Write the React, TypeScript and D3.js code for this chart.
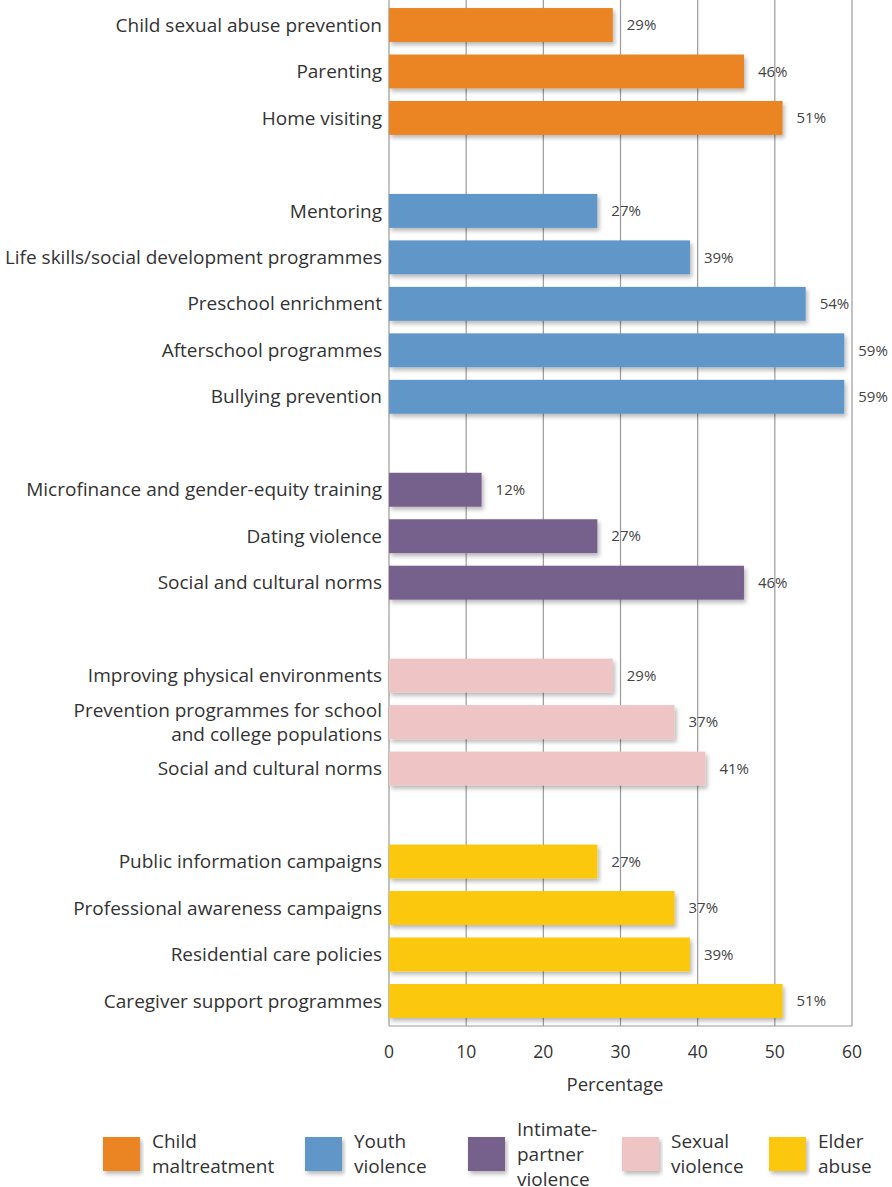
import React from 'react';
import * as d3 from 'd3';

const WIDTH = 892;
const HEIGHT = 1187;

const MARGIN = { top: 0, left: 389, right: 40, bottom: 161 };

const groupNames = ['Child maltreatment', 'Youth violence', 'Intimate-partner violence', 'Sexual violence', 'Elder abuse'];
const groupColors = ['#EB8423', '#6096C8', '#76608C', '#EEC4C4', '#FCC80A'];
const legendLines = [['Child', 'maltreatment'], ['Youth', 'violence'], ['Intimate-', 'partner', 'violence'], ['Sexual', 'violence'], ['Elder', 'abuse']];

const childLabels = [['Child sexual abuse prevention'], ['Parenting'], ['Home visiting']];
const childValues = [29, 46, 51];
const youthLabels = [['Mentoring'], ['Life skills/social development programmes'], ['Preschool enrichment'], ['Afterschool programmes'], ['Bullying prevention']];
const youthValues = [27, 39, 54, 59, 59];
const ipvLabels = [['Microfinance and gender-equity training'], ['Dating violence'], ['Social and cultural norms']];
const ipvValues = [12, 27, 46];
const sexualLabels = [['Improving physical environments'], ['Prevention programmes for school', 'and college populations'], ['Social and cultural norms']];
const sexualValues = [29, 37, 41];
const elderLabels = [['Public information campaigns'], ['Professional awareness campaigns'], ['Residential care policies'], ['Caregiver support programmes']];
const elderValues = [27, 37, 39, 51];

const xTicks = [0, 10, 20, 30, 40, 50, 60];

const groups = [
  { labels: childLabels, values: childValues },
  { labels: youthLabels, values: youthValues },
  { labels: ipvLabels, values: ipvValues },
  { labels: sexualLabels, values: sexualValues },
  { labels: elderLabels, values: elderValues },
];

interface Row {
  slot: number;
  group: number;
  label: string[];
  value: number;
}

// rows with a blank slot between groups
const rows: Row[] = [];
let slot = 0;
groups.forEach((g, gi) => {
  g.labels.forEach((label, i) => {
    rows.push({ slot, group: gi, label, value: g.values[i] });
    slot += 1;
  });
  slot += 1;
});
const slotCount = slot - 1;

const FONT = '"Open Sans", "Noto Sans", sans-serif';

const App = () => {
  const plotBottom = 1026;
  const xScale = d3.scaleLinear().domain([0, 60]).range([MARGIN.left, 852]);
  const yScale = d3
    .scaleBand<number>()
    .domain(d3.range(slotCount))
    .range([1.76, 1024.2])
    .paddingInner(0.27)
    .paddingOuter(0.135);

  const bw = yScale.bandwidth();

  return (
    <svg
      width={WIDTH}
      height={HEIGHT}
      viewBox={`0 0 ${WIDTH} ${HEIGHT}`}
      style={{ position: 'absolute', left: 0, top: 0, display: 'block' }}
      fontFamily={FONT}
    >
      <defs>
        <filter id="shadow" x="-5%" y="-30%" width="115%" height="170%">
          <feDropShadow dx="2" dy="3" stdDeviation="2" floodColor="#000" floodOpacity="0.28" />
        </filter>
      </defs>

      {/* gridlines */}
      {xTicks.map((t) => (
        <line key={t} x1={xScale(t)} x2={xScale(t)} y1={0} y2={plotBottom} stroke="#9a9a9a" strokeWidth={1.2} />
      ))}
      <line x1={xScale(0)} x2={xScale(60)} y1={plotBottom} y2={plotBottom} stroke="#9a9a9a" strokeWidth={1.2} />

      {/* bars */}
      {rows.map((r, i) => {
        const y = yScale(r.slot) as number;
        const cy = y + bw / 2;
        return (
          <g key={i}>
            <rect
              x={xScale(0)}
              y={y}
              width={xScale(r.value) - xScale(0)}
              height={bw}
              fill={groupColors[r.group]}
              filter="url(#shadow)"
            />
            <text x={xScale(r.value) + 14} y={cy} dy="0.35em" fontSize={15} fill="#444">
              {`${r.value}%`}
            </text>
            <text x={382} y={cy} textAnchor="end" fontSize={19} fill="#333">
              {r.label.map((line, li) => (
                <tspan key={li} x={382} y={cy + (li - (r.label.length - 1) / 2) * 24} dy="0.35em">
                  {line}
                </tspan>
              ))}
            </text>
          </g>
        );
      })}

      {/* x axis labels */}
      {xTicks.map((t) => (
        <text key={t} x={xScale(t)} y={1052} dy="0.35em" textAnchor="middle" fontSize={17.5} fill="#333">
          {t}
        </text>
      ))}
      <text x={615} y={1085} dy="0.35em" textAnchor="middle" fontSize={18.5} fill="#333">
        Percentage
      </text>

      {/* legend */}
      {groupNames.map((name, gi) => {
        const lx = [103, 305, 468, 622, 769][gi];
        const lines = legendLines[gi];
        return (
          <g key={name}>
            <rect x={lx} y={1137} width={37} height={34} fill={groupColors[gi]} filter="url(#shadow)" />
            <text fontSize={19} fill="#333">
              {lines.map((line, li) => (
                <tspan key={li} x={lx + 49} y={1154 + (li - (lines.length - 1) / 2) * 25} dy="0.35em">
                  {line}
                </tspan>
              ))}
            </text>
          </g>
        );
      })}
    </svg>
  );
};

export default App;
